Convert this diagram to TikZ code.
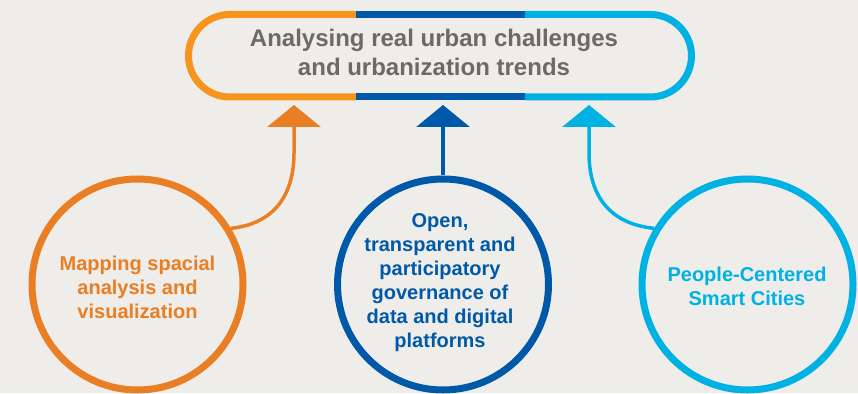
\documentclass[tikz,border=0pt]{standalone}
\usepackage{fontspec}
\setmainfont{Liberation Sans}
\usetikzlibrary{arrows.meta}
\definecolor{bgc}{HTML}{EEEDE9}
\definecolor{pillor}{HTML}{F7941E}
\definecolor{orc}{HTML}{E97E24}
\definecolor{blc}{HTML}{0059A8}
\definecolor{cyc}{HTML}{00B2E3}
\definecolor{grc}{HTML}{6D6A66}
\begin{document}
\begin{tikzpicture}[x=1pt,y=1pt,
  ring/.style={circle, draw, line width=7pt, minimum size=211pt, inner sep=0pt},
  ctext/.style={align=center, font=\bfseries\fontsize{20}{24}\selectfont, inner sep=0pt},
  pill/.style={line width=7pt},
  shaft/.style={line width=3.5pt, -{Triangle[width=53pt,length=22pt]}}
]
\fill[bgc] (0,0) rectangle (858,393);
\useasboundingbox (0,0) rectangle (858,393);

% top pill
\draw[pill, pillor] (356,378.5) -- (229.75,378.5) arc[start angle=90, end angle=270, radius=41.25] -- (356,296);
\draw[pill, blc] (356,378.5) -- (525,378.5);
\draw[pill, blc] (356,296) -- (525,296);
\draw[pill, cyc] (525,378.5) -- (650.25,378.5) arc[start angle=90, end angle=-90, radius=41.25] -- (525,296);
\node[align=center, text=grc, font=\bfseries\fontsize{24}{29}\selectfont, inner sep=0pt] (T) at (434,340.5)
  {Analysing real urban challenges\\and urbanization trends};

% circles
\node[ring, draw=orc] (L) at (137.5,108.5) {};
\node[ring, draw=blc] (M) at (443,108.5) {};
\node[ring, draw=cyc] (R) at (747.5,108.5) {};
\node[ctext, text=orc] (Lt) at (137.5,106) {Mapping spacial\\analysis and\\visualization};
\node[ctext, text=blc] (Mt) at (440,110) {Open,\\transparent and\\participatory\\governance of\\data and digital\\platforms};
\node[ctext, text=cyc] (Rt) at (747,106.5) {People-Centered\\Smart Cities};

% arrow tips
\coordinate (tL) at (294,288);
\coordinate (tM) at (443,288);
\coordinate (tR) at (589,288);

\draw[shaft, orc] (L.31) .. controls (280,170) and (294,205) .. (294,240) -- (tL);
\draw[shaft, blc] (M.north) -- (tM);
\draw[shaft, cyc] (R.149) .. controls (603,170) and (589,205) .. (589,240) -- (tR);
\end{tikzpicture}
\end{document}
